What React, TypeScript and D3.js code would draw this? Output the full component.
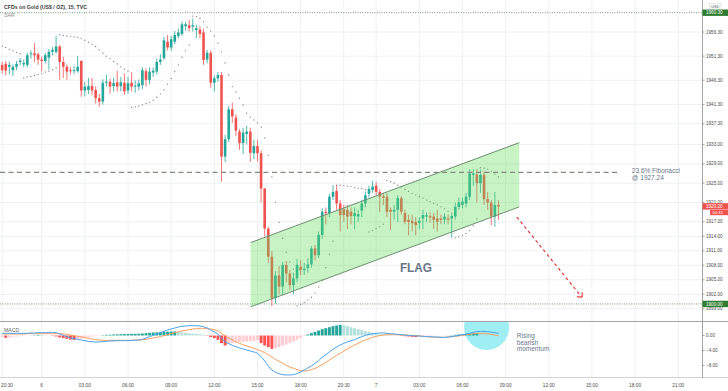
import React, { useEffect, useRef } from 'react';
import * as d3 from 'd3';

// 15 minute bars, index 0 = day 6 00:00
const firstBar = -11;

const opens = [
  1949.5, 1949.7, 1949.1, 1948.4, 1949.1, 1950.1, 1949.6, 1949.5, 1951.7, 1951.9, 1951.7,
  1950.6, 1950.3, 1951.0, 1952.2, 1952.2, 1953.3, 1950.1, 1949.1, 1948.4, 1948.2,
  1948.2, 1950.3, 1944.2, 1944.3, 1945.1, 1944.3, 1942.6, 1941.9, 1945.8, 1946.0,
  1945.1, 1945.9, 1945.1, 1945.8, 1944.2, 1945.8, 1945.0, 1945.0, 1945.3, 1948.2,
  1946.4, 1947.9, 1948.1, 1950.1, 1950.9, 1954.3, 1953.1, 1954.3, 1955.5, 1955.9,
  1957.5, 1957.7, 1957.4, 1956.7, 1956.8, 1956.2, 1950.6, 1952.0, 1945.8, 1946.7,
  1947.4, 1930.5, 1934.1, 1940.3, 1938.6, 1935.7, 1933.3, 1935.2, 1935.7, 1931.2,
  1932.7, 1931.2, 1923.9, 1915.6, 1909.8, 1901.2, 1905.9, 1903.6, 1908.1, 1906.3,
  1903.9, 1905.3, 1907.7, 1907.0, 1907.4, 1908.2, 1911.5, 1910.1, 1914.3, 1919.1,
  1918.8, 1922.2, 1923.4, 1920.8, 1919.6, 1919.5, 1919.1, 1918.2, 1918.1, 1919.3,
  1920.8, 1922.8, 1923.6, 1924.5, 1923.2, 1922.3, 1922.2, 1919.5, 1919.1, 1919.5,
  1921.9, 1918.8, 1917.4, 1917.2, 1917.0, 1916.8, 1917.7, 1918.1, 1918.2, 1918.1,
  1917.7, 1917.7, 1917.5, 1917.7, 1917.7, 1918.1, 1920.1, 1920.5, 1920.8, 1922.2,
  1926.7, 1926.8, 1925.0, 1926.7, 1921.7, 1921.0, 1918.1, 1920.5,
];
const highs = [
  1950.1, 1950.3, 1950.2, 1949.6, 1950.3, 1950.9, 1950.6, 1952.0, 1952.5, 1954.0, 1952.0,
  1951.2, 1952.0, 1952.8, 1953.2, 1955.5, 1953.6, 1951.2, 1949.6, 1949.0, 1949.3,
  1951.3, 1950.5, 1946.0, 1946.8, 1946.8, 1945.0, 1943.5, 1946.5, 1947.5, 1946.6,
  1946.8, 1948.3, 1947.0, 1947.7, 1947.0, 1948.0, 1946.3, 1946.5, 1949.0, 1948.8,
  1949.0, 1949.0, 1950.8, 1951.7, 1955.3, 1955.7, 1955.5, 1956.5, 1957.0, 1958.5,
  1958.4, 1958.8, 1959.1, 1957.8, 1957.5, 1957.0, 1952.6, 1952.5, 1947.3, 1948.0,
  1948.0, 1935.0, 1941.0, 1941.7, 1939.3, 1936.2, 1936.5, 1936.9, 1936.5, 1934.0,
  1934.0, 1931.8, 1924.0, 1916.0, 1911.0, 1906.8, 1907.8, 1908.7, 1908.9, 1907.0,
  1906.5, 1909.3, 1909.0, 1908.5, 1909.5, 1912.0, 1912.2, 1915.0, 1919.8, 1920.0,
  1922.8, 1924.6, 1924.6, 1921.5, 1920.5, 1920.5, 1920.0, 1920.0, 1919.5, 1921.5,
  1923.3, 1924.5, 1925.5, 1925.3, 1923.8, 1923.0, 1923.0, 1920.0, 1920.5, 1922.5,
  1922.3, 1919.5, 1918.5, 1918.5, 1918.0, 1918.0, 1919.5, 1919.0, 1919.0, 1918.8,
  1919.5, 1918.5, 1918.8, 1918.5, 1918.6, 1921.0, 1922.0, 1922.0, 1923.0, 1927.9,
  1927.9, 1927.9, 1927.8, 1927.5, 1923.2, 1921.5, 1923.2, 1921.5,
];
const lows = [
  1947.7, 1947.3, 1947.5, 1947.2, 1948.4, 1949.4, 1949.0, 1949.0, 1950.8, 1950.1, 1949.5,
  1948.2, 1949.8, 1948.5, 1951.5, 1951.8, 1946.4, 1946.8, 1946.4, 1947.5, 1947.6,
  1947.9, 1942.9, 1943.0, 1943.5, 1943.2, 1941.5, 1940.8, 1941.3, 1945.0, 1943.5,
  1944.0, 1944.0, 1944.0, 1943.3, 1943.5, 1944.0, 1943.7, 1944.2, 1944.5, 1945.0,
  1945.5, 1947.0, 1947.5, 1949.5, 1950.5, 1952.5, 1952.4, 1953.8, 1955.0, 1955.5,
  1956.6, 1956.4, 1956.4, 1955.0, 1955.0, 1949.5, 1949.8, 1944.8, 1944.0, 1946.0,
  1925.3, 1929.4, 1933.5, 1937.5, 1934.8, 1931.9, 1931.0, 1933.0, 1929.4, 1930.0,
  1929.5, 1921.0, 1914.0, 1908.5, 1899.5, 1900.1, 1902.0, 1901.8, 1904.5, 1902.9,
  1902.0, 1904.5, 1906.0, 1906.0, 1906.5, 1907.5, 1909.0, 1909.5, 1913.5, 1916.5,
  1918.0, 1921.5, 1919.5, 1915.0, 1917.0, 1915.5, 1916.5, 1915.5, 1917.0, 1918.0,
  1920.0, 1922.0, 1923.0, 1922.5, 1919.0, 1920.5, 1918.0, 1915.3, 1917.5, 1917.0,
  1918.5, 1916.5, 1914.2, 1915.0, 1914.2, 1915.5, 1915.5, 1917.0, 1916.8, 1915.5,
  1915.0, 1916.5, 1916.5, 1916.5, 1913.7, 1917.5, 1919.5, 1919.8, 1920.0, 1921.5,
  1924.5, 1921.0, 1923.0, 1920.5, 1919.5, 1916.3, 1916.0, 1917.4,
];
const closes = [
  1948.4, 1948.3, 1949.5, 1949.1, 1949.7, 1950.4, 1949.9, 1951.5, 1951.9, 1951.5, 1950.6,
  1950.3, 1951.5, 1952.2, 1952.6, 1953.3, 1950.1, 1949.1, 1948.1, 1948.2, 1948.4,
  1949.1, 1944.2, 1945.0, 1945.1, 1944.2, 1942.6, 1941.9, 1945.8, 1946.0, 1945.0,
  1945.7, 1945.0, 1945.9, 1944.0, 1945.7, 1945.0, 1945.2, 1945.7, 1948.4, 1946.4,
  1948.1, 1948.3, 1950.1, 1950.6, 1954.6, 1953.1, 1954.8, 1955.7, 1956.2, 1957.9,
  1957.9, 1957.1, 1957.7, 1957.1, 1955.9, 1950.5, 1952.0, 1945.8, 1946.7, 1947.4,
  1930.5, 1934.1, 1940.3, 1938.8, 1935.9, 1933.3, 1935.5, 1935.7, 1931.3, 1932.7,
  1931.2, 1923.9, 1915.6, 1909.8, 1901.2, 1905.9, 1903.6, 1908.1, 1906.3, 1903.9,
  1905.3, 1908.1, 1907.0, 1907.3, 1908.2, 1911.5, 1910.1, 1914.3, 1919.1, 1918.8,
  1922.2, 1923.2, 1920.8, 1918.4, 1918.4, 1918.1, 1918.2, 1918.8, 1918.6, 1920.8,
  1922.5, 1923.8, 1924.3, 1923.2, 1922.2, 1922.0, 1919.1, 1919.1, 1919.5, 1921.9,
  1919.1, 1917.0, 1917.0, 1916.7, 1916.3, 1917.2, 1918.4, 1918.4, 1917.9, 1917.4,
  1917.0, 1917.4, 1918.1, 1917.4, 1918.2, 1920.1, 1921.0, 1921.2, 1922.2, 1927.0,
  1927.0, 1925.0, 1926.7, 1921.7, 1921.0, 1918.1, 1920.5, 1920.2,
];
const sar = [
  1953.4, 1953.1, 1952.7, 1952.4, 1952.1, 1951.8, 1946.8, 1947.0, 1947.1, 1947.3, 1947.5,
  1947.7, 1948.0, 1948.2, 1948.5, 1948.9, 1955.7, 1955.6, 1955.5, 1955.4, 1955.3,
  1955.2, 1955.0, 1954.6, 1954.2, 1953.8, 1953.3, 1952.6, 1951.9, 1951.3, 1950.8,
  1950.2, 1949.7, 1949.1, 1948.6, 1948.2, 1940.7, 1940.8, 1941.0, 1941.2, 1941.5,
  1941.7, 1942.2, 1942.8, 1943.5, 1944.3, 1945.5, 1946.7, 1948.1, 1949.5, 1951.1,
  1952.4, 1953.6, 1959.6, 1959.5, 1959.1, 1958.4, 1957.3, 1956.5, 1955.5, 1954.0,
  1952.2, 1949.9, 1947.4, 1945.0, 1943.9, 1942.6, 1941.2, 1939.5, 1938.7, 1938.1,
  1937.5, 1936.6, 1934.4, 1930.8, 1926.3, 1921.1, 1916.9, 1913.6, 1910.7, 1908.7,
  1907.2, 1899.6, 1899.9, 1900.3, 1900.8, 1901.4, 1902.3, 1903.5, 1905.0, 1907.5,
  1910.3, 1913.0, 1924.6, 1924.6, 1924.5, 1924.4, 1924.3, 1924.1, 1924.0, 1923.9,
  1923.7, 1914.9, 1915.2, 1915.6, 1916.0, 1916.5, 1925.6, 1925.3, 1925.0, 1924.6,
  1924.2, 1923.7, 1923.3, 1922.9, 1922.6, 1922.2, 1921.9, 1921.5, 1921.2, 1920.8,
  1920.5, 1920.1, 1919.7, 1919.2, 1918.8, 1913.7, 1913.9, 1914.2, 1914.6, 1915.2,
  1916.2, 1917.6, 1928.2, 1928.1, 1927.9, 1927.4, 1926.9, 1926.3,
];
const macdLine = [
  0.58, 0.58, 0.58, 0.58, 0.58, 0.58, 0.58, 0.58, 0.67, 0.67, 0.76,
  0.76, 0.76, 0.84, 0.84, 0.76, 0.40, 0.04, -0.31, -0.58, -0.84,
  -1.02, -1.20, -1.38, -1.56, -1.64, -1.73, -1.73, -1.64, -1.56, -1.47,
  -1.47, -1.38, -1.38, -1.38, -1.38, -1.29, -1.29, -1.20, -1.02, -0.67,
  -0.31, 0.04, 0.40, 0.76, 1.11, 1.47, 1.73, 2.00, 2.27, 2.44,
  2.53, 2.62, 2.62, 2.62, 2.53, 2.36, 2.00, 1.47, 0.93, 0.40,
  -0.76, -1.64, -2.18, -2.62, -2.98, -3.33, -3.60, -3.87, -4.13, -4.40,
  -4.76, -5.64, -6.80, -8.13, -9.20, -9.82, -10.18, -10.44, -10.53, -10.53,
  -10.44, -10.18, -9.73, -9.20, -8.67, -8.13, -7.42, -6.71, -5.82, -5.11,
  -4.40, -3.69, -3.07, -2.53, -2.09, -1.73, -1.38, -1.11, -0.67, -0.31,
  0.04, 0.31, 0.49, 0.58, 0.67, 0.67, 0.58, 0.49, 0.40, 0.31,
  0.22, 0.13, 0.04, -0.04, -0.13, -0.13, -0.22, -0.31, -0.31, -0.40,
  -0.40, -0.49, -0.49, -0.40, -0.31, -0.13, 0.04, 0.22, 0.40, 0.58,
  0.84, 1.02, 1.11, 1.11, 1.02, 0.93, 0.76, 0.58,
];
const signalLine = [
  0.40, 0.40, 0.40, 0.40, 0.40, 0.40, 0.40, 0.49, 0.49, 0.49, 0.49,
  0.49, 0.49, 0.49, 0.49, 0.49, 0.49, 0.40, 0.31, 0.13, -0.04,
  -0.22, -0.40, -0.58, -0.76, -0.93, -1.11, -1.20, -1.29, -1.29, -1.29,
  -1.29, -1.29, -1.29, -1.29, -1.29, -1.29, -1.20, -1.20, -1.11, -1.02,
  -0.84, -0.67, -0.49, -0.31, -0.04, 0.22, 0.49, 0.76, 1.02, 1.20,
  1.38, 1.56, 1.73, 1.82, 1.91, 1.91, 1.82, 1.73, 1.56, 1.20,
  0.58, -0.13, -0.67, -1.20, -1.73, -2.09, -2.44, -2.80, -3.07, -3.42,
  -3.78, -4.13, -4.58, -5.11, -5.73, -6.36, -6.89, -7.42, -7.96, -8.40,
  -8.76, -9.11, -9.38, -9.47, -9.38, -9.11, -8.76, -8.31, -7.78, -7.16,
  -6.53, -5.91, -5.29, -4.76, -4.13, -3.60, -3.07, -2.53, -2.09, -1.56,
  -1.20, -0.84, -0.49, -0.22, -0.04, 0.13, 0.22, 0.22, 0.22, 0.22,
  0.13, 0.13, 0.04, 0.04, -0.04, -0.13, -0.22, -0.31, -0.40, -0.40,
  -0.49, -0.49, -0.49, -0.40, -0.31, -0.22, -0.13, 0.04, 0.22, 0.31,
  0.49, 0.58, 0.58, 0.58, 0.49, 0.31, 0.13, -0.04,
];
const histogram = [
  -0.44, -0.62, -0.53, -0.36, -0.27, -0.18, -0.09, -0.04, 0.02, 0.09, 0.18,
  0.16, 0.09, 0.02, -0.09, -0.27, -0.53, -0.71, -0.89, -1.07, -1.16,
  -0.98, -0.80, -0.62, -0.44, -0.27, -0.18, -0.09, 0.09, 0.18, 0.22,
  0.27, 0.31, 0.36, 0.37, 0.40, 0.44, 0.45, 0.49, 0.53, 0.62,
  0.71, 0.80, 0.84, 0.89, 0.98, 1.02, 1.07, 1.08, 0.98, 0.84,
  0.71, 0.62, 0.53, 0.44, 0.36, 0.18, -0.09, -0.44, -0.71, -1.16,
  -2.04, -2.67, -2.31, -2.04, -1.87, -1.78, -1.69, -1.60, -1.51, -1.42,
  -1.33, -2.04, -2.67, -3.11, -3.56, -3.38, -3.11, -2.76, -2.40, -2.04,
  -1.60, -1.16, -0.62, -0.18, 0.27, 0.62, 0.98, 1.33, 1.69, 1.96,
  2.22, 2.49, 2.67, 2.84, 2.67, 2.49, 2.22, 1.96, 1.69, 1.42,
  1.16, 0.89, 0.62, 0.44, 0.36, 0.27, 0.18, 0.09, 0.04, -0.04,
  -0.09, -0.18, -0.27, -0.36, -0.44, -0.36, -0.27, -0.18, -0.13, -0.09,
  -0.04, -0.03, 0.02, 0.04, 0.09, 0.18, 0.27, 0.31, 0.36, 0.44,
  0.53, 0.62, 0.53, 0.44, 0.36, 0.27, 0.18, 0.13,
];

const priceTicks = [1956.3, 1951.3, 1946.3, 1941.3, 1937.3, 1933, 1929, 1925, 1921, 1917, 1914, 1911, 1908, 1905, 1902, 1899];
const macdTicks = [0, -4, -8];
const timeTickBars = [-11, 0, 12, 24, 36, 48, 60, 72, 84, 93, 105, 117, 129, 141, 153, 165, 177];
const timeTickLabels = ['20:30', '6', '03:00', '06:00', '09:00', '12:00', '15:00', '18:00', '20:30', '7', '03:00', '06:00', '09:00', '12:00', '15:00', '18:00', '21:00'];

// annotations (bar index, price)
const fibLevel = 1927.24;
const fibEndBar = 160;
const highLevel = 1960.3;
const lowLevel = 1900;
const lastPrice = 1920.2;
const flagUpper = [[58.1, 1912.7], [132.8, 1933.4]];
const flagLower = [[58.1, 1899.4], [132.8, 1920.1]];
const arrowLine = [[132.1, 1918.0], [150.2, 1901.4]];
const momentumCircle = [123.7, 2.13];

const FONT = '"Liberation Sans", Arial, sans-serif';
const NOTE = '#67778a';
const UP = '#26a69a';
const DOWN = '#ef5350';

export default function App() {
  const ref = useRef<SVGSVGElement | null>(null);

  useEffect(() => {
    const svg = d3.select(ref.current);
    svg.selectAll('*').remove();

    const W = 728, H = 391, R = 702;
    const bars = closes.map((c, k) => ({
      i: firstBar + k, o: opens[k], h: highs[k], l: lows[k], c,
      sar: sar[k], macd: macdLine[k], signal: signalLine[k], hist: histogram[k],
    }));

    const x = d3.scaleLinear().domain([-11.594, 183.6]).range([0, R]);
    const yP = d3.scaleLinear().domain([1896.47, 1962.93]).range([321, 0]);
    const yM = d3.scaleLinear().domain([-11.07, 3.6]).range([377, 322]);

    const defs = svg.append('defs');
    defs.append('clipPath').attr('id', 'clipP')
      .append('rect').attr('x', 0).attr('y', 0).attr('width', R).attr('height', 321);
    defs.append('clipPath').attr('id', 'clipM')
      .append('rect').attr('x', 0).attr('y', 322).attr('width', R).attr('height', 55);

    svg.append('rect').attr('width', W).attr('height', H).attr('fill', '#fff');

    // grid
    svg.append('g').selectAll('line').data(timeTickBars).join('line')
      .attr('x1', d => x(d)).attr('x2', d => x(d)).attr('y1', 0).attr('y2', 377)
      .attr('stroke', '#eef0f3');
    svg.append('g').selectAll('line').data(priceTicks).join('line')
      .attr('x1', 0).attr('x2', R).attr('y1', d => yP(d)).attr('y2', d => yP(d))
      .attr('stroke', '#eef0f3');

    const price = svg.append('g').attr('clip-path', 'url(#clipP)');

    price.selectAll('line.lvl').data([highLevel, lowLevel]).join('line')
      .attr('class', 'lvl')
      .attr('x1', 0).attr('x2', R).attr('y1', d => yP(d)).attr('y2', d => yP(d))
      .attr('stroke', '#6f9a6f').attr('stroke-dasharray', '1,1.4');

    // candles
    const cg = price.append('g');
    cg.selectAll('line').data(bars).join('line')
      .attr('x1', d => x(d.i)).attr('x2', d => x(d.i))
      .attr('y1', d => yP(d.h)).attr('y2', d => yP(d.l))
      .attr('stroke', d => (d.c >= d.o ? UP : DOWN)).attr('stroke-width', 0.8);
    cg.selectAll('rect').data(bars).join('rect')
      .attr('x', d => x(d.i) - 1.3).attr('width', 2.6)
      .attr('y', d => yP(Math.max(d.o, d.c)))
      .attr('height', d => Math.max(0.9, Math.abs(yP(d.o) - yP(d.c))))
      .attr('fill', d => (d.c >= d.o ? UP : DOWN));

    // parabolic SAR
    price.append('g').selectAll('circle').data(bars).join('circle')
      .attr('cx', d => x(d.i)).attr('cy', d => yP(d.sar)).attr('r', 0.65)
      .attr('fill', '#7d7d7d');

    // flag channel
    const pt = (p: number[]) => [x(p[0]), yP(p[1])] as [number, number];
    const poly = [pt(flagUpper[0]), pt(flagUpper[1]), pt(flagLower[1]), pt(flagLower[0])];
    price.append('path').attr('d', d3.line()(poly) + 'Z')
      .attr('fill', '#63dd5e').attr('fill-opacity', 0.36);
    [flagUpper, flagLower].forEach(seg => {
      price.append('path').attr('d', d3.line()(seg.map(pt)))
        .attr('stroke', '#6e8f6e').attr('stroke-width', 1).attr('fill', 'none');
    });

    // fibonacci level
    price.append('line')
      .attr('x1', 0).attr('x2', x(fibEndBar)).attr('y1', yP(fibLevel)).attr('y2', yP(fibLevel))
      .attr('stroke', '#858b80').attr('stroke-width', 1.2).attr('stroke-dasharray', '5,3.5');

    // projected move arrow
    const a0 = pt(arrowLine[0]);
    const a1 = pt(arrowLine[1]);
    price.append('line')
      .attr('x1', a0[0]).attr('y1', a0[1]).attr('x2', a1[0]).attr('y2', a1[1])
      .attr('stroke', '#e53935').attr('stroke-width', 1.2).attr('stroke-dasharray', '3,3');
    const ang = Math.atan2(a0[1] - a1[1], a0[0] - a1[0]);
    [-Math.PI / 4, Math.PI / 4].forEach(da => {
      price.append('line')
        .attr('x1', a1[0]).attr('y1', a1[1])
        .attr('x2', a1[0] + 5 * Math.cos(ang + da)).attr('y2', a1[1] + 5 * Math.sin(ang + da))
        .attr('stroke', '#e53935').attr('stroke-width', 1.1);
    });

    // annotation texts
    const fx = x(164.1);
    const fy = yP(fibLevel);
    svg.append('text').attr('x', fx).attr('y', fy + 1)
      .attr('font-family', FONT).attr('font-size', 6.5).attr('fill', NOTE).text('23.6% Fibonacci');
    svg.append('text').attr('x', fx).attr('y', fy + 8)
      .attr('font-family', FONT).attr('font-size', 6.5).attr('fill', NOTE).text('@ 1927.24');
    svg.append('text').attr('x', x(99.6)).attr('y', yP(1906.6))
      .attr('font-family', FONT).attr('font-size', 13).attr('font-weight', 700)
      .attr('textLength', 32).attr('lengthAdjust', 'spacingAndGlyphs')
      .attr('fill', NOTE).text('FLAG');

    // MACD pane
    const macd = svg.append('g').attr('clip-path', 'url(#clipM)');
    macd.append('circle')
      .attr('cx', x(momentumCircle[0])).attr('cy', yM(momentumCircle[1])).attr('r', 22.5)
      .attr('fill', '#9eeef4');
    const col = (d: any, k: number) => {
      const prev = k > 0 ? histogram[k - 1] : d.hist;
      if (d.hist >= 0) return d.hist >= prev ? '#26a69a' : '#b2dfdb';
      return d.hist < prev ? '#ff5252' : '#ffcdd2';
    };
    macd.append('g').selectAll('rect').data(bars).join('rect')
      .attr('x', d => x(d.i) - 1.45).attr('width', 2.9)
      .attr('y', d => Math.min(yM(0), yM(d.hist)))
      .attr('height', d => Math.abs(yM(d.hist) - yM(0)))
      .attr('fill', (d, k) => col(d, k));
    const mLine = d3.line<any>().x(d => x(d.i)).y(d => yM(d.macd)).curve(d3.curveMonotoneX);
    const sLine = d3.line<any>().x(d => x(d.i)).y(d => yM(d.signal)).curve(d3.curveMonotoneX);
    macd.append('path').attr('d', sLine(bars)).attr('fill', 'none')
      .attr('stroke', '#f7a060').attr('stroke-width', 1);
    macd.append('path').attr('d', mLine(bars)).attr('fill', 'none')
      .attr('stroke', '#4aa3ec').attr('stroke-width', 1);

    ['Rising', 'bearish', 'momentum'].forEach((t, k) => {
      svg.append('text').attr('x', x(132.1)).attr('y', 338 + k * 6.6)
        .attr('font-family', FONT).attr('font-size', 6.5).attr('fill', NOTE).text(t);
    });

    // pane borders and axes
    svg.append('line').attr('x1', 0).attr('x2', W).attr('y1', 321.5).attr('y2', 321.5)
      .attr('stroke', '#a3a3a3');
    svg.append('line').attr('x1', 0).attr('x2', W).attr('y1', 377.5).attr('y2', 377.5)
      .attr('stroke', '#d4d4d4');
    svg.append('line').attr('x1', R + 0.5).attr('x2', R + 0.5).attr('y1', 0).attr('y2', 378)
      .attr('stroke', '#a3a3a3');

    const axis = svg.append('g').attr('font-family', FONT).attr('fill', '#4d4d4d');
    axis.selectAll('line.pt').data(priceTicks).join('line').attr('class', 'pt')
      .attr('x1', R).attr('x2', R + 2.5).attr('y1', d => yP(d)).attr('y2', d => yP(d))
      .attr('stroke', '#a3a3a3');
    axis.selectAll('text.pt').data(priceTicks).join('text').attr('class', 'pt')
      .attr('x', R + 4).attr('y', d => yP(d) + 1.6).attr('font-size', 4.6)
      .text(d => d3.format('.2f')(d));
    axis.selectAll('line.mt').data(macdTicks).join('line').attr('class', 'mt')
      .attr('x1', R).attr('x2', R + 2.5).attr('y1', d => yM(d)).attr('y2', d => yM(d))
      .attr('stroke', '#a3a3a3');
    axis.selectAll('text.mt').data(macdTicks).join('text').attr('class', 'mt')
      .attr('x', R + 4).attr('y', d => yM(d) + 1.6).attr('font-size', 4.6)
      .text(d => d3.format('.2f')(d));
    // first label sits at the left edge: keep it inside the frame
    axis.selectAll('text.tt').data(timeTickBars).join('text').attr('class', 'tt')
      .attr('x', d => Math.max(x(d), 7)).attr('y', 387).attr('font-size', 4.8).attr('text-anchor', 'middle')
      .text((d, k) => timeTickLabels[k]);

    // price badges
    const badge = (p: number, label: string, fill: string) => {
      const y = yP(p);
      svg.append('rect').attr('x', R + 0.5).attr('y', y - 3.2).attr('width', W - R).attr('height', 6.4)
        .attr('fill', fill);
      svg.append('text').attr('x', R + 4).attr('y', y + 1.7).attr('font-family', FONT)
        .attr('font-size', 4.6).attr('fill', '#fff').text(label);
    };
    badge(highLevel, d3.format('.2f')(highLevel), '#2e7d32');
    badge(lowLevel, d3.format('.2f')(lowLevel), '#2e7d32');
    badge(lastPrice, d3.format('.2f')(lastPrice), '#ef5350');
    svg.append('rect').attr('x', R + 8).attr('y', yP(lastPrice) + 3.6).attr('width', W - R - 8).attr('height', 5.2)
      .attr('fill', '#ef5350');
    svg.append('text').attr('x', R + 10.5).attr('y', yP(lastPrice) + 7.6).attr('font-family', FONT)
      .attr('font-size', 4.2).attr('fill', '#fff').text('00:31');
    svg.append('rect').attr('x', R + 7.5).attr('y', 3.5).attr('width', 11.5).attr('height', 5.5)
      .attr('fill', '#fff').attr('stroke', '#cfcfcf').attr('stroke-width', 0.5);
    svg.append('text').attr('x', R + 13.25).attr('y', 7.7).attr('text-anchor', 'middle')
      .attr('font-family', FONT).attr('font-size', 3.9).attr('fill', '#555').text('USD');

    // legends
    svg.append('text').attr('x', 4).attr('y', 9).attr('font-family', FONT).attr('font-size', 5.3)
      .attr('font-weight', 700).attr('fill', '#3a3a3a')
      .attr('textLength', 83).attr('lengthAdjust', 'spacingAndGlyphs')
      .text('CFDs on Gold (US$ / OZ), 15, TVC');
    svg.append('text').attr('x', 4).attr('y', 17).attr('font-family', FONT).attr('font-size', 5.2)
      .attr('fill', '#8a8a8a').text('SAR');
    svg.append('text').attr('x', 4).attr('y', 332).attr('font-family', FONT).attr('font-size', 5.2)
      .attr('fill', '#666').text('MACD');
  }, []);

  return (
    <div style={{ position: 'absolute', left: 0, top: 0 }}>
      <svg ref={ref} width={728} height={391} style={{ display: 'block' }} />
    </div>
  );
}
